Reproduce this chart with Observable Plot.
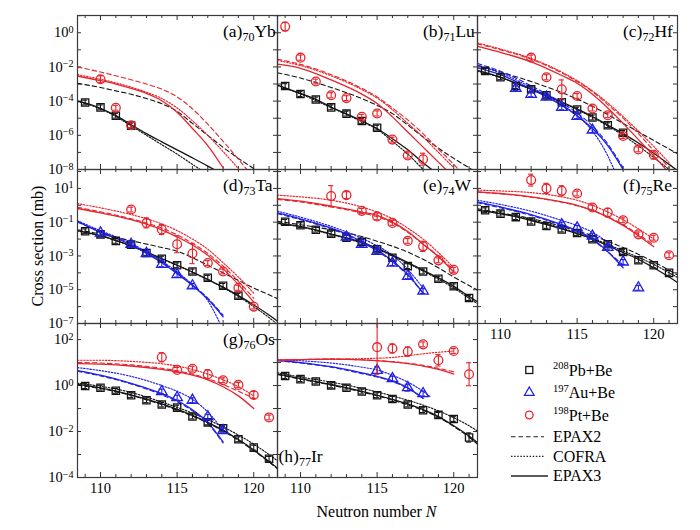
<!DOCTYPE html>
<html>
<head>
<meta charset="utf-8">
<script src="https://cdn.jsdelivr.net/npm/d3@7"></script>
<script src="https://cdn.jsdelivr.net/npm/@observablehq/plot@0.6"></script>
<style>
  body { margin: 0; background: #fff; }
  #fig { position: relative; width: 700px; height: 530px; overflow: hidden;
         font-family: "Liberation Serif", "DejaVu Serif", serif; }
  #fig svg, #fig svg text { font-family: "Liberation Serif", "DejaVu Serif", serif !important; }
  #fig svg.panel { position: absolute; overflow: visible; }
  #overlay { position: absolute; left: 0; top: 0; pointer-events: none; }
</style>
</head>
<body>
<div id="fig"></div>
<script>
// ---------------------------------------------------------------------------
// Measured cross sections: [N, sigma (mb), optional error half-width in log10]
// Model curves: [N, log10 sigma]  (EPAX2, COFRA, EPAX3)
// ---------------------------------------------------------------------------

// (a) 70Yb
const ybPb = [[109,8.3e-5],[110,4.3e-5],[111,1.4e-5],[112,3.7e-6]];
const ybPt = [[110,1.9e-3,0.2],[111,4.1e-5],[112,3.9e-6]];
const ybPbE2 = [[108.5,-2.96],[110,-3.2],[111,-3.4],[112,-3.6],[113,-3.85],[114,-4.15],[115,-4.6],[116,-5.3],[117,-6.0],[118,-6.7],[119,-7.35],[120,-7.95],[121,-8.6]];
const ybPbCo = [[108.5,-4.02],[110,-4.45],[111,-4.9],[112,-5.45],[113,-6.0],[114,-6.55],[115,-7.1],[116,-7.7],[117,-8.3]];
const ybPbE3 = [[108.5,-4.0],[109,-4.1],[110,-4.42],[111,-4.85],[112,-5.38],[113,-5.9],[114,-6.38],[115,-6.85],[116,-7.32],[117,-7.8],[118,-8.3]];
const ybPtE2 = [[108.5,-2.0],[110,-2.3],[112,-2.75],[113,-3.0],[114,-3.3],[115,-3.75],[116,-4.45],[117,-5.35],[118,-6.35],[119,-7.4],[120,-8.5]];
const ybPtCo = [[108.5,-2.45],[110,-2.72],[112,-3.18],[113,-3.48],[114,-3.85],[115,-4.4],[116,-5.15],[117,-6.0],[118,-6.95],[119,-7.95]];
const ybPtE3 = [[108.5,-2.53],[110,-2.8],[111,-3.0],[112,-3.25],[113,-3.55],[114,-3.98],[115,-4.65],[116,-5.6],[117,-6.6],[118,-7.9]];

// (b) 71Lu
const luPb = [[109,7.6e-4],[110,2.6e-4],[111,1.26e-4],[112,4.3e-5],[113,1.85e-5],[114,6.9e-6],[115,2.8e-6]];
const luPt = [[109,2.3,0.25],[110,0.035,0.15],[111,1.4e-3],[112,2.2e-4,0.15],[113,1.5e-4],[114,1.2e-5],[115,1.9e-5,0.15],[116,5.6e-7],[117,6.6e-8,0.15],[118,4e-8,0.35]];
const luPbE2 = [[108.5,-2.34],[110,-2.65],[112,-3.2],[114,-3.85],[115,-4.25],[116,-4.73],[117,-5.4],[118,-6.1],[119,-6.75],[120,-7.35],[121,-7.9],[121.6,-8.25]];
const luPbCo = [[108.5,-3.08],[110,-3.58],[112,-4.38],[114,-5.2],[115,-5.65],[116,-6.35],[117,-7.1],[118,-8.0]];
const luPbE3 = [[108.5,-3.06],[110,-3.55],[111,-3.9],[112,-4.35],[113,-4.75],[114,-5.15],[115,-5.6],[116,-6.2],[117,-6.85],[118,-7.6],[119,-8.3]];
const luPtE2 = [[108.5,-1.55],[110,-1.85],[112,-2.45],[114,-3.25],[115,-3.75],[116,-4.4],[117,-5.1],[118,-5.9],[119,-6.8],[120,-7.7],[120.5,-8.2]];
const luPtCo = [[108.5,-1.62],[110,-1.92],[112,-2.52],[114,-3.32],[115,-3.82],[116,-4.5],[117,-5.3],[118,-6.1],[119,-7.0],[120,-7.9]];
const luPtE3 = [[108.5,-1.84],[110,-2.08],[112,-2.76],[114,-3.59],[115,-4.14],[116,-4.92],[117,-5.81],[118,-6.69],[119,-7.57],[119.6,-8.1]];

// (c) 72Hf
const hfPb = [[109,5.8e-3],[110,2.5e-3],[111,7.6e-4],[112,4.9e-4],[113,2.2e-4],[114,8.7e-5],[115,3.2e-5],[116,1.1e-5],[117,3.9e-6],[118,1.4e-6]];
const hfAu = [[111,5.6e-4],[112,2.5e-4],[113,1.7e-4],[114,4.3e-5],[115,1.3e-5],[116,2e-6]];
const hfPt = [[112,0.035,0.15],[113,2.5e-3,0.15],[114,4.9e-4,0.55],[115,2e-4],[116,3.7e-5],[117,1.5e-5],[118,9.1e-7],[119,1.5e-7],[120,7.3e-8,0.25]];
const hfPbE2 = [[108.5,-1.9],[110,-2.3],[112,-2.85],[114,-3.5],[116,-4.3],[118,-5.3],[120,-6.3],[121.6,-7.1]];
const hfPbCo = [[108.5,-2.25],[110,-2.62],[112,-3.32],[114,-4.08],[116,-4.95],[117,-5.45],[118,-6.0],[119,-6.62],[120,-7.3],[121,-8.0]];
const hfPbE3 = [[108.5,-2.2],[110,-2.6],[111,-2.95],[112,-3.3],[113,-3.65],[114,-4.05],[115,-4.45],[116,-4.9],[117,-5.4],[118,-5.9],[119,-6.45],[120,-7.05],[121,-7.7],[121.6,-8.1]];
const hfAuE2 = [[108.5,-1.8],[110,-2.25],[112,-3.1],[114,-4.1],[115,-4.7],[116,-5.45],[117,-6.5],[118,-7.9]];
const hfAuCo = [[108.5,-1.9],[110,-2.35],[112,-3.2],[114,-4.2],[115,-4.85],[116,-5.75],[117,-7.2],[117.6,-8.4]];
const hfAuE3 = [[108.5,-2.05],[110,-2.45],[111,-2.85],[112,-3.3],[113,-3.75],[114,-4.25],[115,-4.85],[116,-5.6],[117,-6.6],[118,-8.0]];
const hfPtE2 = [[108.5,-0.65],[110,-1.0],[112,-1.55],[114,-2.35],[115,-2.85],[116,-3.45],[117,-4.2],[118,-5.0],[119,-5.9],[120,-6.9],[121,-7.9]];
const hfPtCo = [[108.5,-0.6],[110,-0.95],[112,-1.5],[114,-2.3],[115,-2.8],[116,-3.4],[117,-4.1],[118,-4.9],[119,-5.75],[120,-6.65],[121,-7.6]];
const hfPtE3 = [[108.5,-0.8],[110,-1.15],[112,-1.7],[114,-2.5],[115,-2.95],[116,-3.6],[117,-4.4],[118,-5.3],[119,-6.25],[120,-7.2],[121,-8.2]];

// (d) 73Ta
const taPb = [[109,0.029],[110,0.019],[111,7.8e-3],[112,4.7e-3],[113,1.5e-3],[114,6.9e-4],[115,2.8e-4],[116,1.2e-4],[117,5.1e-5],[118,1.7e-5],[119,4.4e-6]];
const taAu = [[110,0.023],[112,4.9e-3],[113,1.4e-3],[114,3.2e-4],[115,7.8e-5],[116,1.7e-5]];
const taPt = [[112,0.56],[113,0.091,0.3],[114,0.037,0.3],[115,4.9e-3,0.5],[116,1.4e-3,0.6],[117,3.8e-4],[118,1.2e-4],[119,1.3e-5,0.15],[120,1e-6]];
const taPbE2 = [[108.5,-1.45],[110,-1.7],[112,-2.1],[114,-2.5],[115,-2.72],[116,-3.1],[117,-3.55],[118,-4.0],[119,-4.45],[120,-4.9],[121,-5.3],[121.6,-5.55]];
const taPbCo = [[108.5,-1.52],[110,-1.82],[112,-2.42],[114,-3.17],[116,-3.97],[118,-4.88],[119,-5.4],[120,-6.0],[121,-6.65],[121.6,-7.1]];
const taPbE3 = [[108.5,-1.5],[110,-1.8],[112,-2.4],[114,-3.15],[116,-3.95],[118,-4.85],[119,-5.35],[120,-5.9],[121,-6.5],[121.6,-6.9]];
const taAuE2 = [[108.5,-1.0],[110,-1.55],[112,-2.3],[113,-2.8],[114,-3.35],[115,-4.0],[116,-4.7],[117,-5.5],[118,-6.5]];
const taAuCo = [[108.5,-0.92],[110,-1.5],[112,-2.25],[113,-2.75],[114,-3.3],[115,-3.95],[116,-4.7],[117,-5.65],[117.8,-7.0]];
const taAuE3 = [[108.5,-0.95],[110,-1.6],[111,-1.95],[112,-2.35],[113,-2.85],[114,-3.4],[115,-4.05],[116,-4.75],[117,-5.55],[118,-6.6]];
const taPtE2 = [[108.5,-0.12],[110,-0.38],[112,-0.8],[114,-1.35],[115,-1.75],[116,-2.25],[117,-2.85],[118,-3.6],[119,-4.5],[120,-5.5]];
const taPtCo = [[108.5,0.1],[110,-0.15],[112,-0.55],[114,-1.1],[115,-1.5],[116,-2.0],[117,-2.6],[118,-3.4],[119,-4.25],[120,-5.2]];
const taPtE3 = [[108.5,-0.19],[110,-0.45],[112,-0.85],[114,-1.45],[115,-1.87],[116,-2.35],[117,-2.96],[118,-3.75],[119,-4.7],[120,-5.73]];

// (e) 74W
const wPb = [[109,0.105],[110,0.066],[111,0.036],[112,0.021],[113,0.012],[114,6.8e-3],[115,2.5e-3],[116,7.9e-4],[117,2.5e-4],[118,1.2e-4],[119,4.5e-5],[120,1.6e-5],[121,3.2e-6]];
const wAu = [[113,0.013],[114,4.9e-3],[115,1.9e-3],[116,3.8e-4],[117,6.2e-5],[118,8.3e-6]];
const wPt = [[112,3.5,0.62],[113,4.0,0.2],[114,0.47],[115,0.22,0.2],[116,0.091],[117,7.8e-3],[118,3.7e-3,0.3],[119,5.5e-4],[120,1.5e-4]];
const wPbE2 = [[108.5,-0.95],[110,-1.15],[112,-1.45],[114,-1.85],[115,-2.13],[116,-2.42],[117,-2.77],[118,-3.2],[119,-3.7],[120,-4.25],[121,-4.75],[121.6,-5.05]];
const wPbCo = [[108.5,-1.08],[110,-1.28],[112,-1.73],[114,-2.25],[116,-3.0],[118,-3.9],[119,-4.38],[120,-4.9],[121,-5.5],[121.6,-5.85]];
const wPbE3 = [[108.5,-1.05],[110,-1.25],[112,-1.7],[114,-2.2],[116,-2.95],[118,-3.85],[119,-4.3],[120,-4.8],[121,-5.4],[121.6,-5.75]];
const wAuE2 = [[108.5,-0.5],[110,-0.85],[112,-1.4],[113,-1.75],[114,-2.2],[115,-2.7],[116,-3.35],[117,-4.15],[118,-5.2]];
const wAuCo = [[108.5,-0.35],[110,-0.7],[112,-1.25],[114,-1.95],[115,-2.4],[116,-2.95],[117,-3.8],[118,-4.9]];
const wAuE3 = [[108.5,-0.45],[110,-0.8],[112,-1.35],[113,-1.7],[114,-2.15],[115,-2.65],[116,-3.3],[117,-4.1],[118,-5.2]];
const wPtE2 = [[108.5,0.35],[110,0.2],[112,-0.1],[114,-0.45],[115,-0.68],[116,-1.05],[117,-1.6],[118,-2.3],[119,-3.0],[120,-3.85]];
const wPtCo = [[108.5,0.6],[110,0.5],[112,0.3],[114,-0.1],[115,-0.4],[116,-0.8],[117,-1.35],[118,-2.0],[119,-2.8],[120,-3.7]];
const wPtE3 = [[108.5,0.4],[110,0.25],[112,-0.05],[114,-0.4],[115,-0.6],[116,-1.0],[117,-1.55],[118,-2.3],[119,-3.05],[120,-3.95]];

// (f) 75Re
const rePb = [[109,0.51],[110,0.32],[111,0.2],[112,0.11],[113,0.06],[114,0.037],[115,0.023],[116,9.8e-3],[117,4.9e-3],[118,1.7e-3],[119,5.5e-4],[120,2.8e-4],[121,1.0e-4]];
const reAu = [[114,0.072],[115,0.046],[116,0.015],[117,3.2e-3],[118,4.4e-4],[119,1.3e-5]];
const rePt = [[112,31,0.35],[113,10,0.3],[114,7.2,0.3],[115,5.0],[116,0.74],[117,0.37,0.25],[118,0.13],[119,0.019],[120,0.012],[121,1.1e-3]];
const rePbE2 = [[108.5,-0.2],[110,-0.45],[112,-0.78],[114,-1.25],[116,-1.8],[118,-2.5],[120,-3.35],[121.6,-4.15]];
const rePbCo = [[108.5,-0.25],[110,-0.48],[112,-0.85],[114,-1.35],[116,-1.95],[118,-2.7],[120,-3.5],[121.6,-4.3]];
const rePbE3 = [[108.5,-0.3],[110,-0.5],[112,-0.9],[114,-1.4],[116,-2.0],[118,-2.8],[119,-3.2],[120,-3.7],[121,-4.25],[121.6,-4.6]];
const reAuE2 = [[108.5,0.15],[110,-0.15],[112,-0.6],[114,-1.2],[115,-1.55],[116,-2.05],[117,-2.75],[118,-3.55]];
const reAuCo = [[108.5,0.3],[110,0.05],[112,-0.35],[114,-0.9],[115,-1.2],[116,-1.6],[117,-2.2],[118,-3.0]];
const reAuE3 = [[108.5,0.2],[110,-0.1],[112,-0.55],[114,-1.15],[115,-1.5],[116,-2.0],[117,-2.75],[118,-3.7]];
const rePtE2 = [[108.5,0.78],[110,0.68],[112,0.48],[114,0.18],[115,-0.02],[116,-0.3],[117,-0.68],[118,-1.15],[119,-1.72],[120,-2.35]];
const rePtCo = [[108.5,0.9],[110,0.85],[112,0.75],[114,0.5],[115,0.3],[116,0.0],[117,-0.4],[118,-0.85],[119,-1.4],[120,-2.0]];
const rePtE3 = [[108.5,0.8],[110,0.7],[112,0.5],[114,0.2],[115,0.0],[116,-0.3],[117,-0.7],[118,-1.2],[119,-1.8],[120,-2.45]];

// (g) 76Os
const osPb = [[109,0.95],[110,0.81],[111,0.59],[112,0.38],[113,0.23],[114,0.15],[115,0.11],[116,0.045],[117,0.025],[118,0.014],[119,4.6e-3],[120,2.0e-3],[121,6.5e-4]];
const osAu = [[114,0.55],[115,0.3],[116,0.23],[117,0.044],[118,0.011]];
const osPt = [[114,17,0.2],[115,4.8],[116,5.4],[117,3.1,0.2],[118,1.7],[119,1.07],[120,0.39,0.15],[121,0.041]];
const osPbE2 = [[108.5,0.02],[110,-0.13],[112,-0.43],[114,-0.83],[116,-1.33],[117,-1.63],[118,-1.98],[119,-2.38],[120,-2.83],[121,-3.33],[121.6,-3.65]];
const osPbCo = [[108.5,0.1],[110,-0.03],[112,-0.3],[114,-0.72],[116,-1.2],[118,-1.8],[119,-2.15],[120,-2.55],[121,-3.0],[121.6,-3.3]];
const osPbE3 = [[108.5,0.05],[110,-0.1],[112,-0.4],[114,-0.8],[116,-1.3],[117,-1.6],[118,-1.95],[119,-2.35],[120,-2.8],[121,-3.3],[121.6,-3.62]];
const osAuE2 = [[108.5,0.62],[110,0.42],[112,0.07],[114,-0.4],[115,-0.7],[116,-1.1],[117,-1.65],[118,-2.5]];
const osAuCo = [[108.5,0.78],[110,0.65],[112,0.4],[114,0.0],[115,-0.25],[116,-0.6],[117,-1.15],[118,-1.95]];
const osAuE3 = [[108.5,0.65],[110,0.45],[112,0.1],[114,-0.35],[115,-0.65],[116,-1.05],[117,-1.6],[118,-2.45]];
const osPtE2 = [[108.5,1.0],[110,0.98],[112,0.9],[114,0.75],[116,0.5],[117,0.3],[118,0.05],[119,-0.25],[120,-0.55]];
const osPtCo = [[108.5,1.1],[110,1.1],[112,1.05],[114,0.95],[115,0.85],[116,0.7],[117,0.5],[118,0.25],[119,-0.05],[120,-0.45]];
const osPtE3 = [[108.5,0.95],[110,0.93],[112,0.85],[114,0.7],[115,0.6],[116,0.45],[117,0.25],[118,-0.05],[119,-0.45],[120,-1.0]];

// (h) 77Ir
const irPb = [[109,2.6],[110,1.9],[111,1.5],[112,1.02],[113,0.81],[114,0.55],[115,0.38],[116,0.26],[117,0.15],[118,0.085],[119,0.053],[120,0.035],[121,5.5e-3,0.2]];
const irAu = [[115,4.6,0.15],[116,2.0],[117,0.81,0.15],[118,0.45]];
const irPt = [[115,47,1.18],[116,41,0.2],[117,30,0.2],[118,62],[119,12.6,0.25],[120,32],[121,3.1,0.5]];
const irPbE2 = [[108.5,0.48],[110,0.28],[112,0.02],[114,-0.28],[116,-0.63],[117,-0.84],[118,-1.08],[119,-1.38],[120,-1.78],[121,-2.25],[121.6,-2.58]];
const irPbCo = [[108.5,0.55],[110,0.37],[112,0.15],[114,-0.12],[116,-0.45],[118,-0.85],[119,-1.1],[120,-1.4],[121,-1.75],[121.6,-2.0]];
const irPbE3 = [[108.5,0.5],[110,0.3],[112,0.05],[114,-0.25],[116,-0.6],[117,-0.8],[118,-1.05],[119,-1.35],[120,-1.75],[121,-2.2],[121.6,-2.52]];
const irAuE2 = [[108.5,1.08],[110,0.98],[112,0.8],[114,0.52],[115,0.37],[116,0.17],[117,-0.12],[118,-0.55]];
const irAuCo = [[108.5,1.12],[110,1.08],[112,0.98],[114,0.8],[115,0.68],[116,0.45],[117,0.15],[118,-0.25],[118.5,-0.5]];
const irAuE3 = [[108.5,1.1],[110,1.0],[112,0.82],[114,0.55],[115,0.4],[116,0.2],[117,-0.1],[118,-0.55]];
const irPtE2 = [[108.5,1.1],[110,1.13],[112,1.15],[114,1.12],[116,1.04],[117,0.97],[118,0.88],[119,0.75],[120,0.6]];
const irPtCo = [[108.5,1.1],[110,1.13],[112,1.15],[114,1.17],[115,1.19],[116,1.22],[117,1.3],[118,1.38],[119,1.45],[120,1.5]];
const irPtE3 = [[108.5,1.1],[110,1.13],[112,1.15],[114,1.12],[116,1.03],[117,0.95],[118,0.85],[119,0.7],[120,0.5]];

// Axis ticks and legend text
const xTickLabels = [110, 115, 120];
const yTickLabels = [[1e-8, 1e-6, 1e-4, 1e-2, 1e0], [1e-7, 1e-5, 1e-3, 1e-1, 1e1], [1e-4, 1e-2, 1e0, 1e2]];
const systems = [["208", "Pb+Be"], ["197", "Au+Be"], ["198", "Pt+Be"]];
const models = ["EPAX2", "COFRA", "EPAX3"];

// ---------------------------------------------------------------------------
// Layout
// ---------------------------------------------------------------------------
const FONT = "'Liberation Serif', 'DejaVu Serif', serif";
const X0 = 108.5, X1 = 121.55;
const PW = 200, PH = 154;
const colLeft = [77, 277, 477];
const rowTop = [15, 169, 323];
const rowDomain = [[1e-8, 10 ** 1.01], [1e-7, 10 ** 2.12], [1e-4, 10 ** 2.7]];

const C_PB = "#151515", C_AU = "#1f1fe6", C_PT = "#e6232b";
const modelStyle = [
  {dash: "4.5,3", w: 1.1},    // EPAX2
  {dash: "1.5,1.6", w: 1.15}, // COFRA
  {dash: null, w: 1.3}        // EPAX3
];

const panels = [
  {tag: "a", z: 70, el: "Yb", col: 0, row: 0, pb: ybPb, pbC: [ybPbE2, ybPbCo, ybPbE3], pt: ybPt, ptC: [ybPtE2, ybPtCo, ybPtE3]},
  {tag: "b", z: 71, el: "Lu", col: 1, row: 0, pb: luPb, pbC: [luPbE2, luPbCo, luPbE3], pt: luPt, ptC: [luPtE2, luPtCo, luPtE3]},
  {tag: "c", z: 72, el: "Hf", col: 2, row: 0, pb: hfPb, pbC: [hfPbE2, hfPbCo, hfPbE3], au: hfAu, auC: [hfAuE2, hfAuCo, hfAuE3], pt: hfPt, ptC: [hfPtE2, hfPtCo, hfPtE3]},
  {tag: "d", z: 73, el: "Ta", col: 0, row: 1, pb: taPb, pbC: [taPbE2, taPbCo, taPbE3], au: taAu, auC: [taAuE2, taAuCo, taAuE3], pt: taPt, ptC: [taPtE2, taPtCo, taPtE3]},
  {tag: "e", z: 74, el: "W", col: 1, row: 1, pb: wPb, pbC: [wPbE2, wPbCo, wPbE3], au: wAu, auC: [wAuE2, wAuCo, wAuE3], pt: wPt, ptC: [wPtE2, wPtCo, wPtE3]},
  {tag: "f", z: 75, el: "Re", col: 2, row: 1, pb: rePb, pbC: [rePbE2, rePbCo, rePbE3], au: reAu, auC: [reAuE2, reAuCo, reAuE3], pt: rePt, ptC: [rePtE2, rePtCo, rePtE3]},
  {tag: "g", z: 76, el: "Os", col: 0, row: 2, pb: osPb, pbC: [osPbE2, osPbCo, osPbE3], au: osAu, auC: [osAuE2, osAuCo, osAuE3], pt: osPt, ptC: [osPtE2, osPtCo, osPtE3]},
  {tag: "h", z: 77, el: "Ir", col: 1, row: 2, pb: irPb, pbC: [irPbE2, irPbCo, irPbE3], au: irAu, auC: [irAuE2, irAuCo, irAuE3], pt: irPt, ptC: [irPtE2, irPtCo, irPtE3], labelBottom: true}
];

const fig = document.getElementById("fig");

function drawPanel(p) {
  const [Y0, Y1] = rowDomain[p.row];
  const showY = p.col === 0;
  const showX = p.row === 2 || (p.row === 1 && p.col === 2);
  const mL = showY ? 52 : 0, mB = showX ? 30 : 0;
  const pxPerUnit = PW / (X1 - X0);
  const pxPerDec = PH / Math.log10(Y1 / Y0);
  const marks = [];

  // inward ticks on all four sides
  const xt = d3.range(109, 122);
  const xLen = n => (n % 5 === 0 ? 5 : 3) / pxPerDec;
  const decs = d3.range(Math.ceil(Math.log10(Y0)), Math.floor(Math.log10(Y1)) + 1)
    .map(e => 10 ** e).filter(v => v > Y0 * 1.02 && v < Y1 / 1.02);
  const yLen = 4 / pxPerUnit;
  marks.push(Plot.ruleX(xt, {x: d => d, y1: Y0, y2: d => Y0 * 10 ** xLen(d), stroke: "#333", strokeWidth: 1}));
  marks.push(Plot.ruleX(xt, {x: d => d, y1: Y1, y2: d => Y1 / 10 ** xLen(d), stroke: "#333", strokeWidth: 1}));
  marks.push(Plot.ruleY(decs, {y: d => d, x1: X0, x2: X0 + yLen, stroke: "#333", strokeWidth: 1}));
  marks.push(Plot.ruleY(decs, {y: d => d, x1: X1, x2: X1 - yLen, stroke: "#333", strokeWidth: 1}));

  const series = [
    {pts: p.pb, curves: p.pbC, color: C_PB, symbol: "square", r: 4.1},
    {pts: p.au, curves: p.auC, color: C_AU, symbol: "triangle", r: 3.9},
    {pts: p.pt, curves: p.ptC, color: C_PT, symbol: "circle", r: 4.4}
  ].filter(s => s.pts);

  // model curves
  for (const s of series) {
    s.curves.forEach((c, i) => {
      marks.push(Plot.line(c, {
        x: d => d[0], y: d => 10 ** d[1], stroke: s.color,
        strokeWidth: modelStyle[i].w, strokeDasharray: modelStyle[i].dash,
        curve: "monotone-x", clip: true
      }));
    });
  }

  // measured points with error bars
  const defErr = 2.4 / pxPerDec;
  for (const s of series) {
    const e = d => (d[2] ?? defErr);
    const lo = d => d[1] / 10 ** e(d), hi = d => d[1] * 10 ** e(d);
    marks.push(Plot.ruleX(s.pts, {x: d => d[0], y1: lo, y2: hi, stroke: s.color, strokeWidth: 1.1, clip: true}));
    marks.push(Plot.ruleY(s.pts, {y: lo, x1: d => d[0] - 0.17, x2: d => d[0] + 0.17, stroke: s.color, strokeWidth: 1.1, clip: true}));
    marks.push(Plot.ruleY(s.pts, {y: hi, x1: d => d[0] - 0.17, x2: d => d[0] + 0.17, stroke: s.color, strokeWidth: 1.1, clip: true}));
    marks.push(Plot.dot(s.pts, {x: d => d[0], y: d => d[1], symbol: s.symbol, r: s.r, stroke: s.color, strokeWidth: 1.3, fill: "none"}));
  }

  marks.push(Plot.frame({stroke: "#3a3a3a", strokeWidth: 1.2}));
  if (showY) marks.push(Plot.axisY({
    ticks: yTickLabels[p.row], tickSize: 0, tickPadding: 4,
    tickFormat: d => "10^" + Math.round(Math.log10(d))
  }));
  if (showX) marks.push(Plot.axisX({
    ticks: xTickLabels, tickSize: 0, tickPadding: 5, tickFormat: d => String(d)
  }));

  const svg = Plot.plot({
    width: PW + mL, height: PH + mB,
    marginLeft: mL, marginRight: 0, marginTop: 0, marginBottom: mB,
    x: {type: "linear", domain: [X0, X1], axis: showX ? undefined : null},
    y: {type: "log", domain: [Y0, Y1], axis: showY ? undefined : null},
    style: {fontFamily: FONT, fontSize: "14.5px", color: "#000", background: "none", overflow: "visible"},
    marks
  });
  svg.classList.add("panel");
  svg.style.left = (colLeft[p.col] - mL) + "px";
  svg.style.top = rowTop[p.row] + "px";

  // power-of-ten labels with superscript exponents
  d3.select(svg).selectAll('g[aria-label="y-axis tick label"] text').each(function () {
    const m = /^10\^(-?\d+)$/.exec(this.textContent);
    if (!m) return;
    this.textContent = "";
    const t = d3.select(this);
    t.append("tspan").text("10");
    t.append("tspan").attr("dy", "-0.45em").attr("font-size", "0.7em").text(m[1].replace("-", "\u2212"));
  });
  fig.appendChild(svg);
}

panels.forEach(drawPanel);

// ---------------------------------------------------------------------------
// Panel labels, axis titles and legend
// ---------------------------------------------------------------------------
const ov = d3.select(fig).append("svg").attr("id", "overlay")
  .attr("width", 700).attr("height", 530)
  .style("font-family", FONT);

for (const p of panels) {
  const x = p.labelBottom ? colLeft[p.col] + 1.5 : colLeft[p.col] + 146;
  const y = p.labelBottom ? rowTop[p.row] + PH - 15.5 : rowTop[p.row] + 21.5;
  const t = ov.append("text").attr("x", x).attr("y", y).attr("font-size", 17.5);
  t.append("tspan").text(`(${p.tag})`);
  t.append("tspan").attr("font-size", 12).attr("dy", 4.5).text(p.z);
  t.append("tspan").attr("dy", -4.5).text(p.el);
}

ov.append("text")
  .attr("transform", "translate(37,246) rotate(-90)")
  .attr("text-anchor", "middle").attr("dominant-baseline", "central")
  .attr("font-size", 16).text("Cross section (mb)");

const xt = ov.append("text").attr("x", 376.5).attr("y", 517)
  .attr("text-anchor", "middle").attr("font-size", 16);
xt.append("tspan").text("Neutron number ");
xt.append("tspan").attr("font-style", "italic").text("N");

// legend
const lg = ov.append("g");
const symY = [370, 392.5, 415];
const symColors = [C_PB, C_AU, C_PT];
lg.append("rect").attr("x", 525.8).attr("y", symY[0] - 3.5).attr("width", 7).attr("height", 7)
  .attr("fill", "none").attr("stroke", symColors[0]).attr("stroke-width", 1.3);
lg.append("path").attr("d", d3.symbol(d3.symbolTriangle, 40)()).attr("transform", `translate(529.3,${symY[1]})`)
  .attr("fill", "none").attr("stroke", symColors[1]).attr("stroke-width", 1.3);
lg.append("circle").attr("cx", 529.3).attr("cy", symY[2]).attr("r", 3.8)
  .attr("fill", "none").attr("stroke", symColors[2]).attr("stroke-width", 1.3);
systems.forEach(([mass, name], i) => {
  const t = lg.append("text").attr("x", 553).attr("y", symY[i] + 5.7).attr("font-size", 16);
  t.append("tspan").attr("font-size", 10.5).attr("dy", -6.5).text(mass);
  t.append("tspan").attr("dy", 6.5).text(name);
});
const lineY = [436.7, 456.3, 476];
models.forEach((m, i) => {
  lg.append("line").attr("x1", 511).attr("x2", i === 2 ? 548 : 544)
    .attr("y1", lineY[i]).attr("y2", lineY[i])
    .attr("stroke", "#222").attr("stroke-width", modelStyle[i].w)
    .attr("stroke-dasharray", modelStyle[i].dash);
  lg.append("text").attr("x", 553).attr("y", lineY[i] + 5.3).attr("font-size", 16).text(m);
});
</script>
</body>
</html>
